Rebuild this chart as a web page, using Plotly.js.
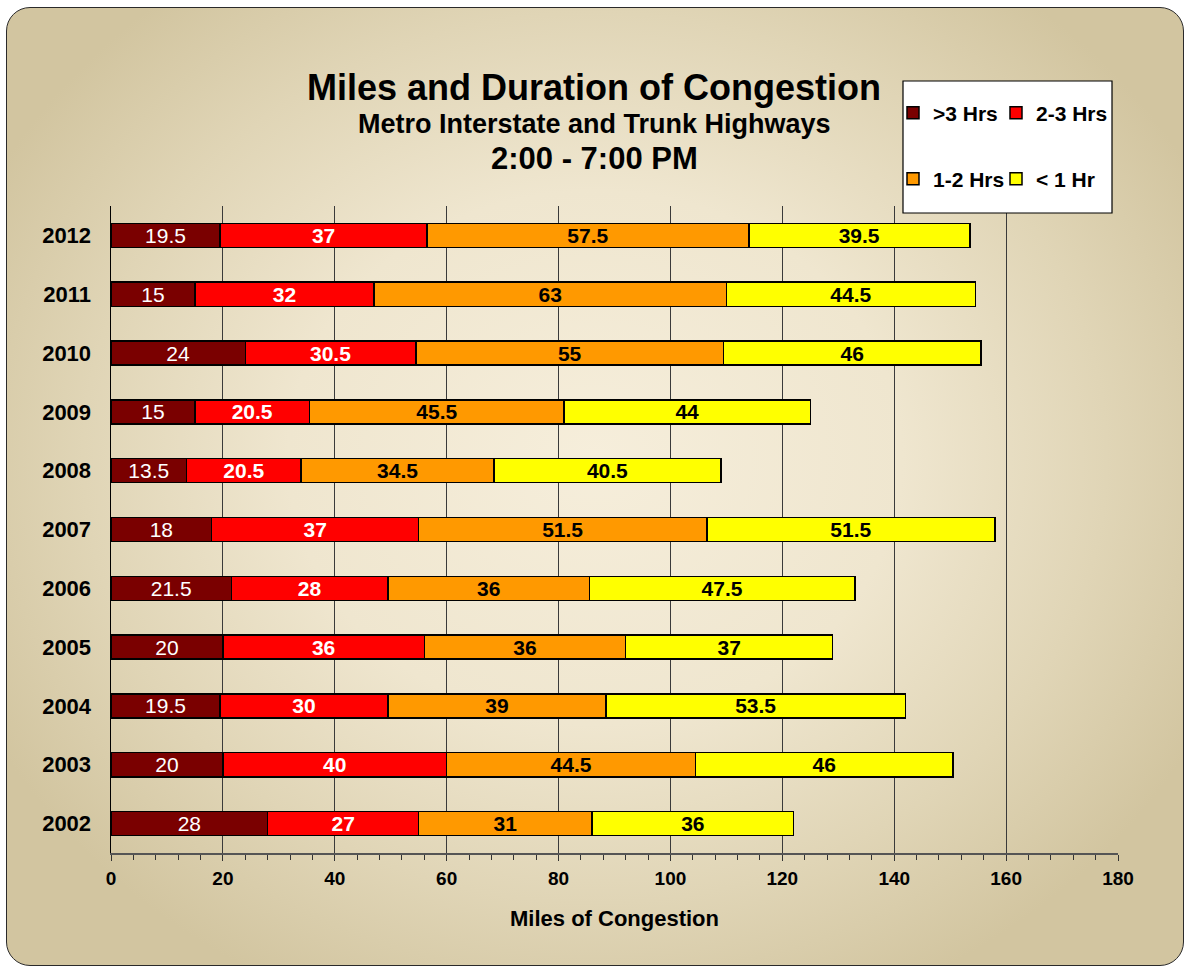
<!DOCTYPE html>
<html>
<head>
<meta charset="utf-8">
<script src="https://cdn.plot.ly/plotly-3.0.1.min.js"></script>
<style>
  html, body { margin: 0; padding: 0; background: #ffffff; }
  #frame {
    position: absolute; left: 6px; top: 7px; width: 1178px; height: 959px;
    box-sizing: border-box; border: 1.5px solid #2a2a2a; border-radius: 24px;
    background: radial-gradient(ellipse 58% 62% at 50% 47%, #f6eedb 0%, #efe6cf 45%, #e0d5b6 75%, #d2c5a0 100%);
  }
  #chart { position: absolute; left: 0; top: 0; width: 1185px; height: 966px; }
</style>
</head>
<body>
<div id="frame"></div>
<div id="chart"></div>
<script>
// ---- data ----
var years = ['2002','2003','2004','2005','2006','2007','2008','2009','2010','2011','2012'];
var over3Hrs  = [28, 20, 19.5, 20, 21.5, 18, 13.5, 15, 24, 15, 19.5];
var hrs2to3   = [27, 40, 30, 36, 28, 37, 20.5, 20.5, 30.5, 32, 37];
var hrs1to2   = [31, 44.5, 39, 36, 36, 51.5, 34.5, 45.5, 55, 63, 57.5];
var under1Hr  = [36, 46, 53.5, 37, 47.5, 51.5, 40.5, 44, 46, 44.5, 39.5];
var seriesNames = ['>3 Hrs', '2-3 Hrs', '1-2 Hrs', '< 1 Hr'];
var xTicks = [0, 20, 40, 60, 80, 100, 120, 140, 160, 180];

var FONT = 'Liberation Sans, Arial, Helvetica, sans-serif';

function mk(vals, name, color, txtColor, weight, legendId) {
  return {
    type: 'bar', orientation: 'h', y: years, x: vals, name: name,
    legend: legendId,
    marker: { color: color, line: { color: '#000000', width: 1.5 } },
    text: vals.map(function (v) { return String(v); }),
    texttemplate: '%{text}',
    textposition: 'inside', insidetextanchor: 'middle', textangle: 0,
    constraintext: 'none',
    textfont: { family: FONT, size: 21, color: txtColor, weight: weight },
    hoverinfo: 'x+name'
  };
}

var data = [
  mk(over3Hrs, seriesNames[0], '#7a0000', '#ffffff', 'normal', 'legend'),
  mk(hrs2to3,  seriesNames[1], '#ff0000', '#ffffff', 'bold', 'legend2'),
  mk(hrs1to2,  seriesNames[2], '#ff9900', '#000000', 'bold', 'legend3'),
  mk(under1Hr, seriesNames[3], '#ffff00', '#000000', 'bold', 'legend4')
];

function leg(px, py) {
  return {
    orientation: 'h', xref: 'container', yref: 'container',
    x: px / 1185, y: 1 - py / 966,
    xanchor: 'left', yanchor: 'middle',
    bgcolor: 'rgba(0,0,0,0)', borderwidth: 0,
    font: { family: FONT, size: 21, color: '#000000', weight: 'bold' },
    itemclick: false, itemdoubleclick: false
  };
}

var layout = {
  width: 1185, height: 966,
  margin: { l: 111, r: 67, t: 206, b: 113 },
  paper_bgcolor: 'rgba(0,0,0,0)',
  plot_bgcolor: 'rgba(0,0,0,0)',
  barmode: 'stack', bargap: 0.59,
  font: { family: FONT, color: '#000000' },
  showlegend: true,
  legend:  leg(893, 113),
  legend2: leg(996, 113),
  legend3: leg(893, 179),
  legend4: leg(996, 179),
  xaxis: {
    range: [0, 180], tickmode: 'array', tickvals: xTicks,
    showgrid: true, gridcolor: '#3a3a3a', gridwidth: 1,
    zeroline: false, showline: true, linecolor: '#555555', linewidth: 1.5,
    ticks: 'outside', ticklen: 6, tickcolor: '#333333', tickwidth: 1,
    ticklabelstandoff: 2,
    minor: { dtick: 4, tick0: 0, ticks: 'outside', ticklen: 5, tickcolor: '#333333', tickwidth: 1, showgrid: false },
    tickfont: { family: FONT, size: 19, color: '#000000', weight: 'bold' },
    title: { text: 'Miles of Congestion', font: { family: FONT, size: 22, color: '#000000', weight: 'bold' }, standoff: 22 },
    fixedrange: true
  },
  yaxis: {
    type: 'category', categoryorder: 'array', categoryarray: years,
    showgrid: false, zeroline: false, showline: true, linecolor: '#000000', linewidth: 1.5,
    ticks: '', ticklabelstandoff: 14,
    tickfont: { family: FONT, size: 22, color: '#000000', weight: 'bold' },
    fixedrange: true
  },
  shapes: [{
    type: 'rect', xref: 'paper', yref: 'paper', layer: 'above',
    x0: (903 - 111) / 1007, x1: (1112 - 111) / 1007,
    y0: (853 - 213) / 647, y1: (853 - 81) / 647,
    fillcolor: '#ffffff', line: { color: '#000000', width: 1.2 }
  }],
  annotations: [
    { text: 'Miles and Duration of Congestion', xref: 'paper', yref: 'paper',
      x: (594 - 111) / 1007, y: (853 - 87) / 647, xanchor: 'center', yanchor: 'middle', showarrow: false,
      font: { family: FONT, size: 36, color: '#000000', weight: 'bold' } },
    { text: 'Metro Interstate and Trunk Highways', xref: 'paper', yref: 'paper',
      x: (594 - 111) / 1007, y: (853 - 124) / 647, xanchor: 'center', yanchor: 'middle', showarrow: false,
      font: { family: FONT, size: 27, color: '#000000', weight: 'bold' } },
    { text: '2:00 - 7:00 PM', xref: 'paper', yref: 'paper',
      x: (594 - 111) / 1007, y: (853 - 158) / 647, xanchor: 'center', yanchor: 'middle', showarrow: false,
      font: { family: FONT, size: 31, color: '#000000', weight: 'bold' } }
  ]
};

Plotly.newPlot('chart', data, layout, { displayModeBar: false, staticPlot: true });
</script>
</body>
</html>
